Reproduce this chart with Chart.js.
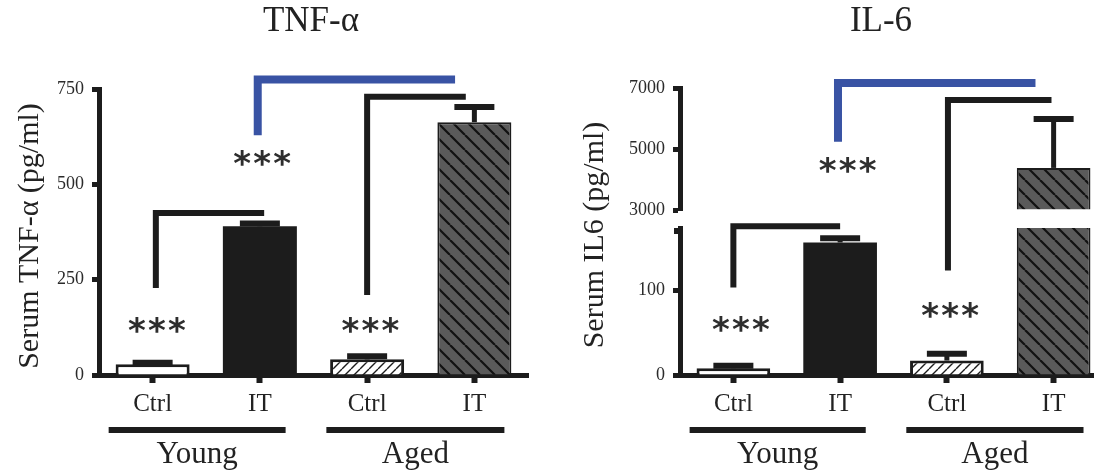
<!DOCTYPE html>
<html>
<head>
<meta charset="utf-8">
<title>Serum TNF-α and IL-6</title>
<script src="https://cdn.jsdelivr.net/npm/chart.js@4.4.1/dist/chart.umd.min.js"></script>
<style>
  html, body { margin: 0; padding: 0; background: #fff; overflow: hidden; }
  #wrap { position: relative; width: 1094px; height: 472px; overflow: hidden; }
  canvas { position: absolute; top: 0; }
  #tnfChart { left: 0; }
  #il6Chart { left: 560px; }
</style>
</head>
<body>
<div id="wrap">
  <canvas id="tnfChart" width="560" height="472"></canvas>
  <canvas id="il6Chart" width="560" height="472"></canvas>
</div>
<script>
// Values (mean and upper error, pg/ml)
const categories = ['Ctrl', 'IT', 'Ctrl', 'IT'];
const groups = ['Young', 'Aged'];
const tnfMeans = [28, 390, 41, 663];
const tnfErrors = [4, 7, 8, 40];
const tnfTicks = [0, 250, 500, 750];
const il6Means = [8, 156, 17, 4380];
const il6Errors = [3, 5, 8, 1600];
const il6LowTicks = [0, 100];
const il6HighTicks = [3000, 5000, 7000];
const il6LowMax = 173;   // axis is cut between these two values
const il6HighMin = 3000;
const il6HighMax = 7000;

const INK = '#1c1c1c';
const BLUE = '#3953a4';
const SERIF = "'Liberation Serif', 'Times New Roman', serif";

// Hatched fills for the aged bars
function hatch(bg, lineColor, size, width, dir) {
  const c = document.createElement('canvas');
  c.width = c.height = size;
  const g = c.getContext('2d');
  g.fillStyle = bg;
  g.fillRect(0, 0, size, size);
  g.strokeStyle = lineColor;
  g.lineWidth = width;
  g.beginPath();
  for (const k of [-size, 0, size]) {
    if (dir === '/') { g.moveTo(k, size); g.lineTo(k + size, 0); }
    else { g.moveTo(k, 0); g.lineTo(k + size, size); }
  }
  g.stroke();
  return g.createPattern(c, 'repeat');
}

const barFills = ['#ffffff', INK, hatch('#ffffff', INK, 9, 1.4, '/'), hatch('#5a5a5a', '#111111', 15, 2.2, '\\')];
const barBorders = [3, 0, 3, 2];

// Annotations per panel (x in category units, y in data units of the named axis)
const panels = {
  tnfChart: {
    title: 'TNF-α', titleX: 311,
    yTitle: 'Serum TNF-α (pg/ml)', yTitleX: 30, yTitleY: 236,
    means: tnfMeans, errors: tnfErrors,
    axisFor: v => 'y',
    brackets: [
      { x0: 0.03, x1: 1.04, y0: 228, a0: 'y', y1: 425, a1: 'y', color: INK, width: 6 },
      { x0: 2.0, x1: 2.92, y0: 210, a0: 'y', y1: 730, a1: 'y', color: INK, width: 6 },
      { x0: 0.98, x1: 2.82, y0: 629, a0: 'y', y1: 775, a1: 'y', color: BLUE, width: 8 }
    ],
    stars: [
      { x: 0.04, y: 136, a: 'y' },
      { x: 1.02, y: 574, a: 'y' },
      { x: 2.03, y: 136, a: 'y' }
    ]
  },
  il6Chart: {
    title: 'IL-6', titleX: 321,
    yTitle: 'Serum IL6 (pg/ml)', yTitleX: 35, yTitleY: 235,
    means: il6Means, errors: il6Errors,
    axisFor: v => (v >= il6HighMin ? 'yHigh' : 'yLow'),
    brackets: [
      { x0: 0.0, x1: 1.0, y0: 103, a0: 'yLow', y1: 175, a1: 'yLow', color: INK, width: 6 },
      { x0: 2.01, x1: 2.98, y0: 123, a0: 'yLow', y1: 6607, a1: 'yHigh', color: INK, width: 6 },
      { x0: 0.98, x1: 2.83, y0: 5240, a0: 'yHigh', y1: 7164, a1: 'yHigh', color: BLUE, width: 8 }
    ],
    stars: [
      { x: 0.07, y: 62, a: 'yLow' },
      { x: 1.07, y: 4541, a: 'yHigh' },
      { x: 2.03, y: 79, a: 'yLow' }
    ],
    lowCap: true
  }
};
const groupSpans = [[-0.41, 1.24], [1.62, 3.28]];

function seg(ctx, x0, y0, x1, y1) {
  ctx.beginPath();
  ctx.moveTo(x0, y0);
  ctx.lineTo(x1, y1);
  ctx.stroke();
}

const decorPlugin = {
  id: 'decor',
  afterDatasetsDraw(chart) {
    const p = panels[chart.canvas.id];
    const ctx = chart.ctx;
    const meta = chart.getDatasetMeta(0);
    ctx.save();
    ctx.strokeStyle = INK;
    ctx.lineCap = 'butt';
    // upper error bars
    p.means.forEach((m, i) => {
      const ys = chart.scales[p.axisFor(m)];
      const x = meta.data[i].x;
      const yb = ys.getPixelForValue(m);
      const ye = ys.getPixelForValue(m + p.errors[i]);
      ctx.lineWidth = 5;
      seg(ctx, x, yb, x, ye);
      ctx.lineWidth = 6;
      seg(ctx, x - 20, ye, x + 20, ye);
    });
    ctx.restore();
  },
  afterDraw(chart) {
    const p = panels[chart.canvas.id];
    const ctx = chart.ctx;
    const xs = chart.scales.x;
    const area = chart.chartArea;
    ctx.save();

    // panel title
    ctx.fillStyle = '#222';
    ctx.font = '35px ' + SERIF;
    ctx.textAlign = 'center';
    ctx.textBaseline = 'middle';
    ctx.fillText(p.title, p.titleX, 22);

    // y axis title
    ctx.save();
    ctx.translate(p.yTitleX, p.yTitleY);
    ctx.rotate(-Math.PI / 2);
    ctx.font = '30px ' + SERIF;
    ctx.fillText(p.yTitle, 0, 0);
    ctx.restore();

    // cap at the top of the lower axis segment
    if (p.lowCap) {
      const top = chart.scales.yLow.top;
      ctx.fillStyle = INK;
      ctx.fillRect(area.left - 6, top, 9, 6);
    }

    // group bars under the category labels
    ctx.strokeStyle = INK;
    ctx.lineWidth = 6;
    ctx.font = '31px ' + SERIF;
    ctx.fillStyle = '#222';
    groups.forEach((g, i) => {
      const a = xs.getPixelForValue(groupSpans[i][0]);
      const b = xs.getPixelForValue(groupSpans[i][1]);
      seg(ctx, a, 430, b, 430);
      ctx.fillText(g, (a + b) / 2, 455);
    });

    // significance brackets
    ctx.lineJoin = 'miter';
    ctx.lineCap = 'butt';
    p.brackets.forEach(b => {
      const x0 = xs.getPixelForValue(b.x0);
      const x1 = xs.getPixelForValue(b.x1);
      const y0 = chart.scales[b.a0].getPixelForValue(b.y0);
      const y1 = chart.scales[b.a1].getPixelForValue(b.y1);
      ctx.strokeStyle = b.color;
      ctx.lineWidth = b.width;
      ctx.beginPath();
      ctx.moveTo(x0, y0);
      ctx.lineTo(x0, y1);
      ctx.lineTo(x1, y1);
      ctx.stroke();
    });

    // stars, spaced apart like the original
    ctx.fillStyle = '#2e2e2e';
    ctx.font = "bold 34px 'DejaVu Sans', sans-serif";
    ctx.textBaseline = 'alphabetic';
    p.stars.forEach(s => {
      const x = xs.getPixelForValue(s.x);
      const y = chart.scales[s.a].getPixelForValue(s.y);
      [-20, 0, 20].forEach(dx => ctx.fillText('*', x + dx, y + 19));
    });
    ctx.restore();
  }
};

function xAxis() {
  return {
    offset: true,
    grid: { offset: false, drawOnChartArea: false, tickLength: 8, tickWidth: 6, tickColor: INK },
    border: { color: INK, width: 5 },
    ticks: { font: { family: SERIF, size: 25 }, color: '#222', padding: 6, maxRotation: 0 },
    afterFit: s => { s.height = 40; }
  };
}

function yAxis(width, ticks, extra) {
  return Object.assign({
    type: 'linear',
    position: 'left',
    grid: { drawOnChartArea: false, tickLength: 7, tickWidth: 5, tickColor: INK },
    border: { color: INK, width: 5 },
    ticks: { font: { family: SERIF, size: 18 }, color: '#2b2b2b', padding: 8, callback: v => String(v) },
    afterBuildTicks: s => { s.ticks = ticks.map(v => ({ value: v })); },
    afterFit: s => { s.width = width; }
  }, extra);
}

function barStyle() {
  return {
    backgroundColor: barFills,
    borderColor: INK,
    borderWidth: barBorders,
    barPercentage: 0.69,
    categoryPercentage: 1,
    grouped: false
  };
}

const common = {
  responsive: false,
  animation: false,
  events: [],
  plugins: { legend: { display: false }, tooltip: { enabled: false } }
};

// TNF-alpha panel
new Chart(document.getElementById('tnfChart'), {
  type: 'bar',
  data: {
    labels: categories,
    datasets: [Object.assign({ data: tnfMeans }, barStyle())]
  },
  options: Object.assign({}, common, {
    layout: { padding: { left: 14, right: 32, top: 89, bottom: 57 } },
    scales: {
      x: xAxis(),
      y: yAxis(85, tnfTicks, { min: 0, max: 750 })
    }
  }),
  plugins: [decorPlugin]
});

// IL-6 panel with a broken y axis (two stacked scales and an empty gap scale)
new Chart(document.getElementById('il6Chart'), {
  type: 'bar',
  data: {
    labels: categories,
    datasets: [
      Object.assign({ data: il6Means, yAxisID: 'yLow' }, barStyle()),
      Object.assign({
        data: il6Means.map(v => (v >= il6HighMin ? v : null)),
        yAxisID: 'yHigh',
        base: il6HighMin
      }, barStyle())
    ]
  },
  options: Object.assign({}, common, {
    layout: { padding: { left: 20, right: 13, top: 88, bottom: 57 } },
    scales: {
      x: xAxis(),
      yLow: yAxis(100, il6LowTicks, { min: 0, max: il6LowMax, stack: 'il6', stackWeight: 147 }),
      yGap: { type: 'linear', position: 'left', stack: 'il6', stackWeight: 18, display: false },
      yHigh: yAxis(100, il6HighTicks, { min: il6HighMin, max: il6HighMax, stack: 'il6', stackWeight: 122 })
    }
  }),
  plugins: [decorPlugin]
});
</script>
</body>
</html>
